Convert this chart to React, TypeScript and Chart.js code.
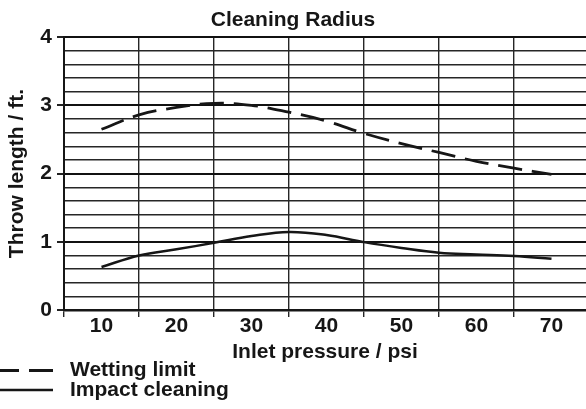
import React, { useEffect, useRef } from "react";
import { Chart, registerables } from "chart.js";

Chart.register(...registerables);

const TITLE = "Cleaning Radius";
const X_TITLE = "Inlet pressure / psi";
const Y_TITLE = "Throw length / ft.";
const pressure = [10, 15, 20, 25, 30, 35, 40, 45, 50, 55, 60, 65, 70];
const wettingLimit = [2.65, 2.86, 2.97, 3.03, 3.0, 2.9, 2.77, 2.59, 2.44, 2.31, 2.18, 2.08, 1.99];
const impactCleaning = [0.63, 0.8, 0.89, 0.985, 1.085, 1.145, 1.1, 0.995, 0.91, 0.84, 0.815, 0.79, 0.75];
const seriesLabels = ["Wetting limit", "Impact cleaning"];

const FONT = "'Liberation Sans', Arial, sans-serif";
const INK = "#161616";
const GRID = "#262626";

const isInt = (v: number) => Math.abs(v - Math.round(v)) < 1e-6;
const isMult = (v: number, m: number) => Math.abs(v / m - Math.round(v / m)) < 1e-6;

const legendPlugin = {
  id: "leftLegend",
  afterDraw(chart: any) {
    const ctx = chart.ctx;
    const rows = [370.5, 390];
    ctx.save();
    chart.data.datasets.forEach((ds: any, i: number) => {
      const y = rows[i];
      ctx.beginPath();
      ctx.setLineDash(ds.borderDash || []);
      ctx.lineWidth = ds.borderWidth;
      ctx.strokeStyle = ds.borderColor;
      ctx.moveTo(53, y);
      ctx.lineTo(0, y);
      ctx.stroke();
      ctx.setLineDash([]);
      ctx.fillStyle = INK;
      ctx.font = `bold 21px ${FONT}`;
      ctx.textBaseline = "middle";
      ctx.textAlign = "left";
      ctx.fillText(ds.label, 70, y);
    });
    ctx.restore();
  },
};

export default function App() {
  const ref = useRef<HTMLCanvasElement>(null);
  useEffect(() => {
    if (!ref.current) return;
    const chart = new Chart(ref.current, {
      type: "line",
      data: {
        datasets: [
          {
            label: seriesLabels[0],
            data: pressure.map((p, i) => ({ x: p, y: wettingLimit[i] })),
            borderColor: INK,
            borderWidth: 2.8,
            borderDash: [24, 10],
            pointRadius: 0,
            tension: 0.4,
            fill: false,
          },
          {
            label: seriesLabels[1],
            data: pressure.map((p, i) => ({ x: p, y: impactCleaning[i] })),
            borderColor: INK,
            borderWidth: 2.5,
            pointRadius: 0,
            tension: 0.4,
            fill: false,
          },
        ],
      },
      plugins: [legendPlugin],
      options: {
        animation: false,
        responsive: false,
        maintainAspectRatio: false,
        layout: { padding: 0 },
        plugins: {
          legend: { display: false },
          tooltip: { enabled: false },
          title: {
            display: true,
            text: TITLE,
            color: INK,
            font: { family: FONT, size: 21, weight: "bold", lineHeight: 1.2 },
            padding: { top: 8, bottom: 4 },
          },
        },
        scales: {
          x: {
            type: "linear",
            min: 5,
            max: 74.6,
            afterFit: (s: any) => {
              s.height = 99;
            },
            border: { display: true, color: INK, width: 2.5 },
            grid: {
              color: (c: any) => (c.tick && isMult(c.tick.value, 5) && !isMult(c.tick.value, 10) ? GRID : "transparent"),
              tickColor: (c: any) => (c.tick && isMult(c.tick.value, 5) && !isMult(c.tick.value, 10) ? GRID : "transparent"),
              lineWidth: 1.4,
              tickLength: 7,
              drawTicks: true,
            },
            ticks: {
              stepSize: 5,
              includeBounds: false,
              autoSkip: false,
              maxRotation: 0,
              color: INK,
              padding: -1,
              font: { family: FONT, size: 21, weight: "bold", lineHeight: 1 },
              callback: (v: any) => (isMult(Number(v), 10) ? String(v) : ""),
            },
            title: {
              display: true,
              text: X_TITLE,
              color: INK,
              font: { family: FONT, size: 21, weight: "bold", lineHeight: 1.2 },
              padding: { top: 0, bottom: 44 },
            },
          },
          y: {
            type: "linear",
            min: 0,
            max: 4,
            afterFit: (s: any) => {
              s.width = 64;
            },
            border: { display: true, color: INK, width: 2 },
            grid: {
              color: (c: any) => (c.tick && isInt(c.tick.value) ? "#111" : GRID),
              lineWidth: (c: any) => (c.tick && isInt(c.tick.value) ? 2 : 1.4),
              tickColor: (c: any) => (c.tick && isInt(c.tick.value) ? "#222" : "transparent"),
              tickLength: 7,
            },
            ticks: {
              stepSize: 0.2,
              autoSkip: false,
              color: INK,
              padding: 5,
              font: { family: FONT, size: 21, weight: "bold" },
              callback: (v: any) => (isInt(Number(v)) ? String(Math.round(Number(v))) : ""),
            },
            title: {
              display: true,
              text: Y_TITLE,
              color: INK,
              font: { family: FONT, size: 21, weight: "bold", lineHeight: 1.2 },
              padding: { top: 5, bottom: 0 },
            },
          },
        },
      },
    } as any);
    return () => chart.destroy();
  }, []);
  return (
    <div style={{ position: "absolute", left: 0, top: 0, width: 586, height: 409, background: "#fff" }}>
      <canvas ref={ref} width={586} height={409} style={{ display: "block", width: 586, height: 409 }} />
    </div>
  );
}
